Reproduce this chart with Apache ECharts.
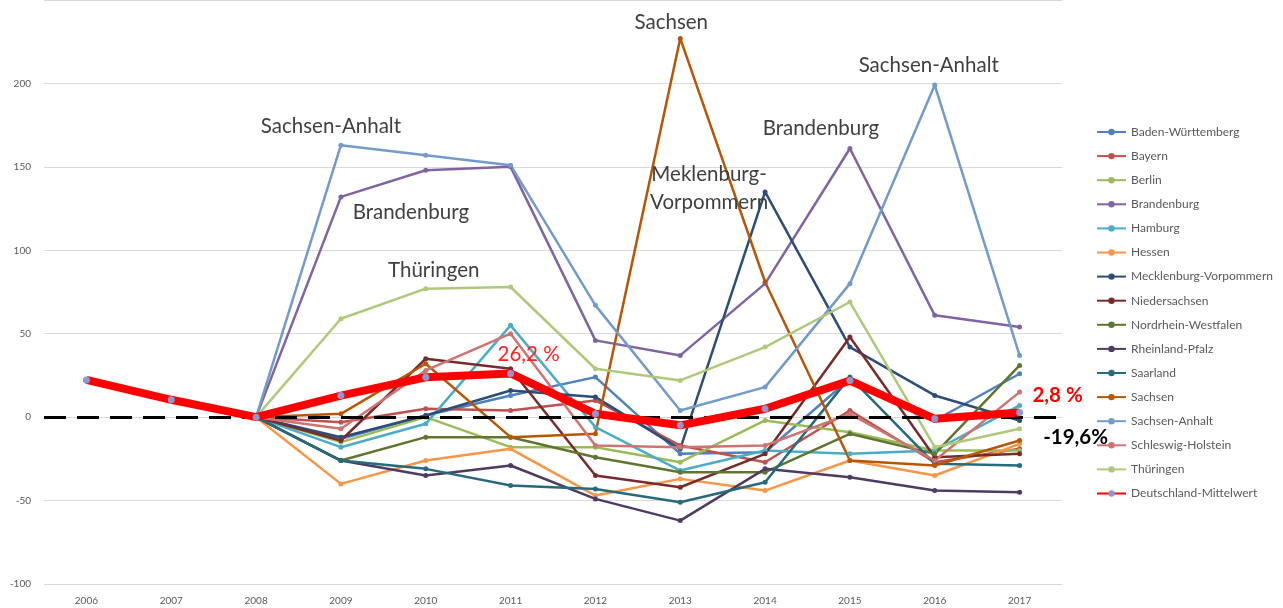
<!DOCTYPE html>
<html><head><meta charset="utf-8">
<script src="https://cdn.jsdelivr.net/npm/echarts@6/dist/echarts.min.js"></script>
<style>html,body{margin:0;padding:0;background:#fff}#c{width:1283px;height:608px}</style>
</head><body><div id="c"></div>
<script>
const years = ['2006','2007','2008','2009','2010','2011','2012','2013','2014','2015','2016','2017'];
const yTicks = [-100,-50,0,50,100,150,200];
const names = ['Baden-Württemberg','Bayern','Berlin','Brandenburg','Hamburg','Hessen','Mecklenburg-Vorpommern','Niedersachsen','Nordrhein-Westfalen','Rheinland-Pfalz','Saarland','Sachsen','Sachsen-Anhalt','Schleswig-Holstein','Thüringen','Deutschland-Mittelwert'];
const colors = ['#4F81BD','#C0504D','#9BBB59','#8064A2','#4BACC6','#F79646','#2C4D75','#772C2A','#5F7530','#4D3B62','#276A7C','#B65708','#729ACA','#CD7371','#AFC97A','#FF0000'];

const badenWuerttemberg = [null,null,0,-13,1,13,24,-22,-21,23,-2,26];
const bayern            = [null,null,0,-3,5,4,10,-17,-27,4,-27,-19];
const berlin            = [null,null,0,-15,0,-18,-18,-27,-2,-9,-20,-20];
const brandenburg       = [null,null,0,132,148,150,46,37,80,161,61,54];
const hamburg           = [null,null,0,-18,-4,55,-6,-32,-20,-22,-20,7];
const hessen            = [null,null,0,-40,-26,-19,-47,-37,-44,-26,-35,-16];
const mecklenburgVP     = [null,null,0,-12,1,16,12,-19,135,42,13,-2];
const niedersachsen     = [null,null,0,-14,35,29,-35,-42,-22,48,-24,-22];
const nordrheinWestfalen= [null,null,0,-26,-12,-12,-24,-33,-33,-10,-22,31];
const rheinlandPfalz    = [null,null,0,-26,-35,-29,-49,-62,-31,-36,-44,-45];
const saarland          = [null,null,0,-26,-31,-41,-43,-51,-39,24,-28,-29];
const sachsen           = [null,null,0,2,32,-12,-10,227,81,-26,-29,-14];
const sachsenAnhalt     = [null,null,0,163,157,151,67,4,18,80,199,37];
const schleswigHolstein = [null,null,0,-7,28,50,-17,-18,-17,2,-26,15];
const thueringen        = [null,null,0,59,77,78,29,22,42,69,-18,-7];
const mittelwert        = [22.3,10.4,0,12.9,23.9,26.2,2,-4.9,5,21.9,-1,2.8];

const allData = [badenWuerttemberg,bayern,berlin,brandenburg,hamburg,hessen,mecklenburgVP,niedersachsen,nordrheinWestfalen,rheinlandPfalz,saarland,sachsen,sachsenAnhalt,schleswigHolstein,thueringen,mittelwert];

// annotations: [seriesIndex, yearIndex, text, offset, color, bold]
const annotations = [
  [12,3,'Sachsen-Anhalt',[-10,-19],'#404040',false],
  [3,3,'Brandenburg',[70,15],'#404040',false],
  [14,4,'Thüringen',[8,-18],'#404040',false],
  [11,7,'Sachsen',[-9,-16],'#404040',false],
  [6,8,'Meklenburg-\nVorpommern',[-56,-3],'#404040',false],
  [3,9,'Brandenburg',[-29,-20],'#404040',false],
  [12,10,'Sachsen-Anhalt',[-6,-20],'#404040',false],
  [15,5,'26,2 %',[18,-19],'#FF2020',false],
  [15,11,'2,8 %',[38,-17],'#FF0000',true],
  [15,11,'-19,6%',[56,25],'#000000',true]
];

const FONT = 'Lato, "Open Sans", sans-serif';
const series = names.map((n,i)=>{
  const isMean = i===15;
  const s = {
    name:n, type:'line', data:allData[i], symbol:'circle',
    symbolSize: isMean?7:5, showSymbol:true, connectNulls:false,
    z: isMean?5:2,
    lineStyle:{color:colors[i], width: isMean?8:2.5},
    itemStyle:{color: isMean?'#8F97CC':colors[i]},
    emphasis:{disabled:true},
    animation:false
  };
  const mps = annotations.filter(a=>a[0]===i).map(a=>({
    coord:[years[a[1]], allData[i][a[1]]],
    symbol:'circle', symbolSize:1, itemStyle:{color:'rgba(0,0,0,0)'},
    label:{show:true, formatter:a[2], offset:a[3], position:'inside', color:a[4],
      fontSize:20.5, fontWeight:a[5]?'bold':'normal', fontFamily:FONT, lineHeight:28, align:'center'}
  }));
  if (mps.length) s.markPoint = {data:mps, silent:true, animation:false};
  return s;
});
series.push({
  name:'zero', type:'line', data:[], z:4, silent:true, animation:false,
  markLine:{symbol:'none', silent:true, animation:false, label:{show:false},
    lineStyle:{color:'#000', width:3, type:[22,11]},
    data:[{yAxis:yTicks[2]}]}
});

const chart = echarts.init(document.getElementById('c'));
chart.setOption({
  animation:false,
  backgroundColor:'#fff',
  grid:{left:44, right:221, top:-3, bottom:24, containLabel:false},
  legend:{
    orient:'vertical', left:1091, top:121, data:names, itemWidth:29, itemHeight:8, itemGap:12.1,
    textStyle:{fontSize:12, color:'#595959', fontFamily:FONT}, selectedMode:false
  },
  xAxis:{type:'category', data:years, boundaryGap:true,
    axisLine:{show:false}, axisTick:{show:false},
    axisLabel:{fontSize:10, color:'#595959', fontFamily:FONT, margin:12}},
  yAxis:{type:'value', min:-100, max:250, interval:50,
    axisLine:{show:false}, axisTick:{show:false},
    splitLine:{lineStyle:{color:'#D9D9D9', width:1}},
    axisLabel:{fontSize:10, color:'#595959', fontFamily:FONT, margin:13,
      formatter:v=> yTicks.indexOf(v)>=0 ? String(v) : ''}},
  series:series
});
</script></body></html>
